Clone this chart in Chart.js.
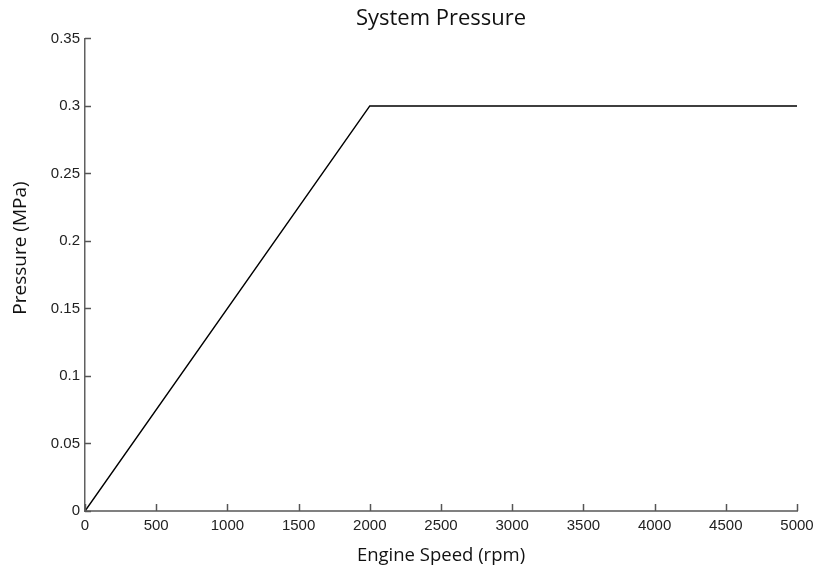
<!DOCTYPE html>
<html>
<head>
<meta charset="utf-8">
<script src="https://cdn.jsdelivr.net/npm/chart.js@4"></script>
<style>
    html, body { margin: 0; padding: 0; background: #fff; }
    #wrap { width: 816px; height: 574px; position: relative; }
</style>
</head>
<body>
<div id="wrap"><canvas id="pressureChart"></canvas></div>
<script>
// data
const engineSpeed = [0, 2000, 5000];
const pressure = [0, 0.3, 0.3];
const xTicks = [0, 500, 1000, 1500, 2000, 2500, 3000, 3500, 4000, 4500, 5000];
const yTicks = [0, 0.05, 0.1, 0.15, 0.2, 0.25, 0.3, 0.35];
const yTitle = "Pressure (MPa)";

document.addEventListener("DOMContentLoaded", function () {
    const canvas = document.getElementById("pressureChart");
    const ctx = canvas.getContext("2d");

    const points = engineSpeed.map((s, i) => ({ x: s, y: pressure[i] }));

    // MATLAB style tick marks pointing into the plot, plus the y label
    const matlabAxes = {
        id: "matlabAxes",
        afterLayout(chart) {
            // center the title over the plot area, not the whole canvas
            const t = chart.titleBlock;
            if (t) {
                t.left = chart.chartArea.left;
                t.right = chart.chartArea.right;
                t.width = t.right - t.left;
            }
        },
        afterDraw(chart) {
            const c = chart.ctx;
            const area = chart.chartArea;
            const xs = chart.scales.x;
            const ys = chart.scales.y;
            c.save();
            c.strokeStyle = "#555";
            c.lineWidth = 1.5;
            xTicks.forEach((v) => {
                const px = Math.round(xs.getPixelForValue(v)) + 0.5;
                c.beginPath();
                c.moveTo(px, area.bottom);
                c.lineTo(px, area.bottom - 7);
                c.stroke();
            });
            yTicks.forEach((v) => {
                const py = Math.round(ys.getPixelForValue(v)) + 0.5;
                c.beginPath();
                c.moveTo(area.left, py);
                c.lineTo(area.left + 6, py);
                c.stroke();
            });

            // y axis title sits a bit above the middle in the original
            c.translate(21, 248);
            c.rotate(-Math.PI / 2);
            c.fillStyle = "#111";
            c.font = "19px 'Open Sans'";
            c.textAlign = "center";
            c.textBaseline = "middle";
            c.fillText(yTitle, 0, 0);
            c.restore();
        },
    };

    new Chart(ctx, {
        type: "line",
        data: {
            datasets: [
                {
                    label: "Pressure",
                    data: points,
                    borderColor: "#000",
                    borderWidth: 1.5,
                    pointRadius: 0,
                    fill: false,
                    tension: 0,
                },
            ],
        },
        options: {
            responsive: true,
            maintainAspectRatio: false,
            animation: false,
            layout: { padding: { left: 0, right: 19, top: 0, bottom: 0 } },
            scales: {
                x: {
                    type: "linear",
                    min: 0,
                    max: 5000,
                    afterFit: (s) => {
                        s.height = 63;
                        s.paddingLeft = 0;
                        s.paddingRight = 0;
                    },
                    afterBuildTicks: (s) => { s.ticks = xTicks.map((v) => ({ value: v })); },
                    grid: { display: true, drawOnChartArea: false, drawTicks: false },
                    border: { display: true, color: "#808080", width: 2 },
                    ticks: {
                        padding: 6,
                        color: "#222",
                        font: { family: "Liberation Sans", size: 15 },
                        maxRotation: 0,
                        callback: (v) => String(v),
                    },
                    title: {
                        display: true,
                        text: "Engine Speed (rpm)",
                        color: "#111",
                        font: { family: "Open Sans", size: 18.5 },
                        padding: { top: 7, bottom: 7 },
                    },
                },
                y: {
                    type: "linear",
                    min: 0,
                    max: 0.35,
                    afterFit: (s) => { s.width = 85; },
                    afterBuildTicks: (s) => { s.ticks = yTicks.map((v) => ({ value: v })); },
                    grid: { display: true, drawOnChartArea: false, drawTicks: false },
                    border: { display: true, color: "#606060", width: 1.5 },
                    ticks: {
                        padding: 5,
                        color: "#222",
                        font: { family: "Liberation Sans", size: 15 },
                        callback: (v) => String(+v.toFixed(2)),
                    },
                    title: { display: false },
                },
            },
            plugins: {
                legend: { display: false },
                tooltip: { enabled: false },
                title: {
                    display: true,
                    text: "System Pressure",
                    color: "#111",
                    font: { family: "Open Sans", size: 22, weight: "normal" },
                    padding: { top: 6, bottom: 6 },
                },
            },
        },
        plugins: [matlabAxes],
    });
});
</script>
</body>
</html>
